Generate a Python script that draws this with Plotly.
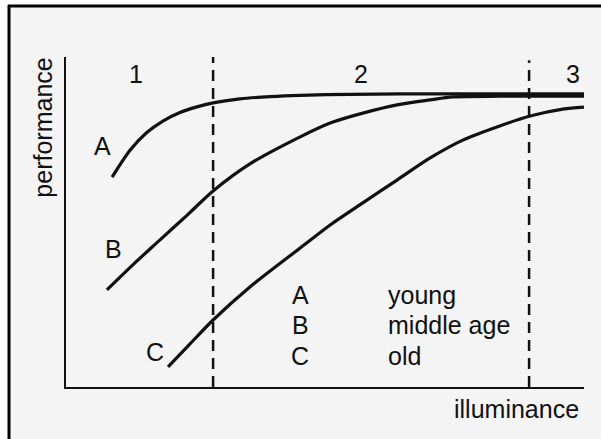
import plotly.graph_objects as go

# illuminance (x) / performance (y) in arbitrary units 0-100
a_x = [8.9, 12.4, 15.6, 18.7, 22.0, 25.1, 28.4, 33.6, 39.4, 45.2, 54.8, 64.5, 80.0, 100.0]
a_y = [63.6, 71.8, 77.1, 80.6, 83.2, 84.8, 86.1, 87.3, 88.0, 88.4, 88.7, 88.8, 88.8, 88.8]

b_x = [7.9, 13.3, 18.1, 23.4, 28.4, 35.5, 45.2, 51.0, 57.3, 63.9, 70.3, 74.7, 83.8, 100.0]
b_y = [29.4, 37.6, 44.5, 52.1, 59.4, 67.6, 75.8, 80.0, 83.0, 85.5, 87.0, 87.9, 88.1, 88.1]

c_x = [19.7, 23.9, 28.4, 35.5, 45.2, 51.0, 57.3, 63.9, 70.3, 76.6, 83.2, 89.6, 95.9, 100.0]
c_y = [6.1, 13.0, 20.3, 30.3, 42.1, 49.1, 55.8, 62.7, 69.4, 74.8, 78.8, 82.1, 84.2, 84.8]

boundaries = [28.4, 89.4]
boundary_tops = [100, 99]

region_labels = ["1", "2", "3"]
region_x = [13.5, 57.0, 97.9]
region_y = 95.0

curve_labels = ["A", "B", "C"]
curve_label_x = [7.1, 9.1, 17.2]
curve_label_y = [73.0, 41.8, 10.6]

key_letters = ["A", "B", "C"]
key_names = ["young", "middle age", "old"]
key_y = [28.0, 18.7, 9.4]

FONT = "Liberation Sans, Arial, sans-serif"
BG = "#f4f4f4"

fig = go.Figure()

for bx, top in zip(boundaries, boundary_tops):
    fig.add_trace(go.Scatter(x=[bx, bx], y=[0, top], mode="lines",
                             line=dict(color="#111", width=2.5, dash="11px,7px"),
                             showlegend=False, hoverinfo="skip"))

for xs, ys in [(a_x, a_y), (b_x, b_y), (c_x, c_y)]:
    fig.add_trace(go.Scatter(x=xs, y=ys, mode="lines",
                             line=dict(color="#111", width=3.2, shape="spline", smoothing=0.8),
                             showlegend=False, hoverinfo="skip"))

font = dict(family=FONT, size=25, color="#111")

for t, x in zip(region_labels, region_x):
    fig.add_annotation(x=x, y=region_y, text=t, showarrow=False, font=font)

for t, x, y in zip(curve_labels, curve_label_x, curve_label_y):
    fig.add_annotation(x=x, y=y, text=t, showarrow=False, font=font)

for letter, name, y in zip(key_letters, key_names, key_y):
    fig.add_annotation(x=45.2, y=y, text=letter, showarrow=False, font=font)
    fig.add_annotation(x=61.8, y=y, text=name, showarrow=False, font=font, xanchor="left")

fig.add_annotation(xref="paper", yref="paper", x=0.995, y=-0.067, text="illuminance",
                   showarrow=False, font=font, xanchor="right", yanchor="middle")
fig.add_annotation(xref="paper", yref="paper", x=-0.045, y=0.785, text="performance",
                   showarrow=False, font=font, textangle=-90, xanchor="center", yanchor="middle")

# picture frame: white margin with thick black top/left border (pixel -> paper)
def px(v):
    return (v - 66) / 518

def py(v):
    return (387 - v) / 330

fig.add_shape(type="rect", xref="paper", yref="paper", x0=px(-5), x1=px(8), y0=py(445), y1=py(-5),
              fillcolor="white", line_width=0, layer="below")
fig.add_shape(type="rect", xref="paper", yref="paper", x0=px(-5), x1=px(606), y0=py(5), y1=py(-5),
              fillcolor="white", line_width=0, layer="below")
fig.add_shape(type="line", xref="paper", yref="paper", x0=px(8), x1=px(606), y0=py(6), y1=py(6),
              line=dict(color="black", width=3))
fig.add_shape(type="line", xref="paper", yref="paper", x0=px(9), x1=px(9), y0=py(5), y1=py(445),
              line=dict(color="black", width=3))

fig.update_xaxes(range=[0, 100], showgrid=False, zeroline=False, showticklabels=False, ticks="",
                 showline=True, linecolor="#111", linewidth=2)
fig.update_yaxes(range=[0, 100], showgrid=False, zeroline=False, showticklabels=False, ticks="",
                 showline=True, linecolor="#111", linewidth=2)

fig.update_layout(width=601, height=439, margin=dict(l=66, r=17, t=57, b=52),
                  paper_bgcolor=BG, plot_bgcolor=BG, showlegend=False)

fig.write_html("out.html", config={"displayModeBar": False},
               post_script="document.body.style.margin='0px';")
